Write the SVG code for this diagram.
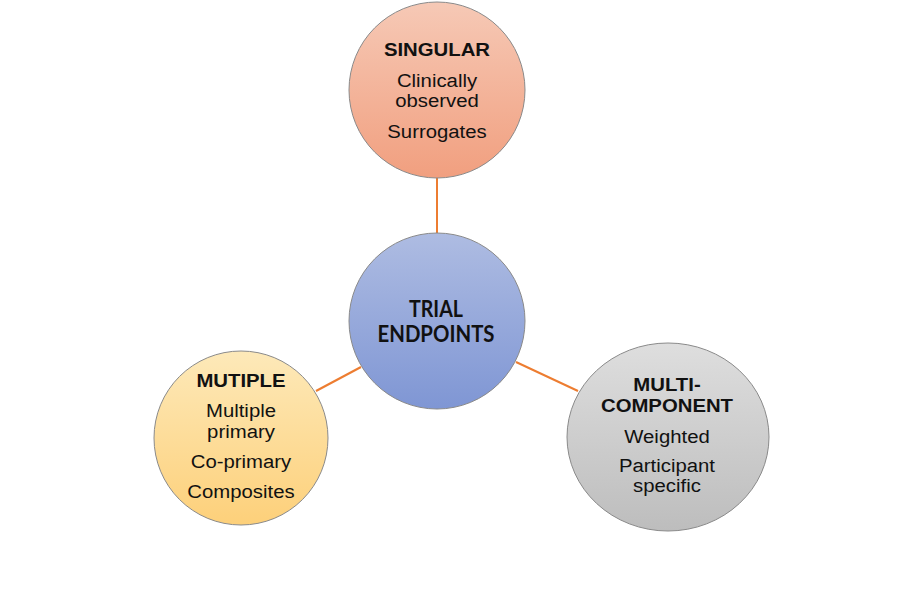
<svg xmlns="http://www.w3.org/2000/svg" width="900" height="600" viewBox="0 0 900 600">
<style>
.ring{stroke:#8a8a8a;stroke-width:1}
.t{font-family:"Liberation Sans",Arial,sans-serif;font-size:18px;fill:#111;text-anchor:middle}
.b{font-weight:bold}
.c{font-family:Lato,"Liberation Sans",sans-serif;font-weight:bold;font-size:23px;fill:#111;text-anchor:middle}
.conn{stroke:#ed7d31;stroke-width:2;fill:none}
</style>
<defs>
<linearGradient id="gTop" x1="0" y1="0" x2="0" y2="1"><stop offset="0" stop-color="#f6c9b6"/><stop offset="1" stop-color="#f19f7f"/></linearGradient>
<linearGradient id="gCen" x1="0" y1="0" x2="0" y2="1"><stop offset="0" stop-color="#aebce2"/><stop offset="1" stop-color="#7f96d4"/></linearGradient>
<linearGradient id="gLeft" x1="0" y1="0" x2="0" y2="1"><stop offset="0" stop-color="#fde9b9"/><stop offset="1" stop-color="#fdd07a"/></linearGradient>
<linearGradient id="gRight" x1="0" y1="0" x2="0" y2="1"><stop offset="0" stop-color="#dedede"/><stop offset="1" stop-color="#bdbdbd"/></linearGradient>
</defs>
<rect width="900" height="600" fill="#ffffff"/>
<g id="connectors">
<line class="conn" x1="437" y1="178" x2="437" y2="233"/>
<line class="conn" x1="361" y1="367" x2="316" y2="391"/>
<line class="conn" x1="516" y1="362" x2="578" y2="391"/>
</g>
<g id="singular">
<circle class="ring" cx="437" cy="90" r="88" fill="url(#gTop)"/>
<g transform="matrix(1.13 0 0 1 -56.81 0)">
<text class="t b" x="437" y="56">SINGULAR</text>
<text class="t" x="437" y="87">Clinically</text>
<text class="t" x="437" y="107">observed</text>
<text class="t" x="437" y="138">Surrogates</text>
</g>
</g>
<g id="trial-endpoints">
<circle class="ring" cx="437" cy="321" r="88" fill="url(#gCen)"/>
<text class="c" x="436" y="317" textLength="54" lengthAdjust="spacingAndGlyphs">TRIAL</text>
<text class="c" x="436" y="342" textLength="117" lengthAdjust="spacingAndGlyphs">ENDPOINTS</text>
</g>
<g id="multiple">
<circle class="ring" cx="241" cy="438" r="87" fill="url(#gLeft)"/>
<g transform="matrix(1.13 0 0 1 -31.33 0)">
<text class="t b" x="241" y="387">MUTIPLE</text>
<text class="t" x="241" y="417">Multiple</text>
<text class="t" x="241" y="438">primary</text>
<text class="t" x="241" y="468">Co-primary</text>
<text class="t" x="241" y="498">Composites</text>
</g>
</g>
<g id="multi-component">
<ellipse class="ring" cx="668" cy="437" rx="101" ry="94" fill="url(#gRight)"/>
<g transform="matrix(1.13 0 0 1 -86.71 0)">
<text class="t b" x="667" y="391">MULTI-</text>
<text class="t b" x="667" y="412">COMPONENT</text>
<text class="t" x="667" y="443">Weighted</text>
<text class="t" x="667" y="472">Participant</text>
<text class="t" x="667" y="492">specific</text>
</g>
</g>
</svg>
